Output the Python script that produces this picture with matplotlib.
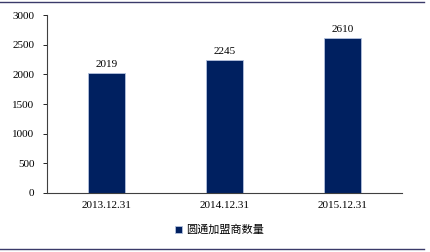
import matplotlib.pyplot as plt
from matplotlib.lines import Line2D

categories = ['2013.12.31', '2014.12.31', '2015.12.31']
values = [2019, 2245, 2610]
series_name = '圆通加盟商数量'

plt.rcParams['font.family'] = ['Liberation Serif', 'Noto Sans CJK SC']

fig = plt.figure(figsize=(4.3, 2.52), dpi=100)
ax = fig.add_axes([47 / 430, 1 - 193 / 252, 355 / 430, 178 / 252])

bars = ax.bar(range(len(categories)), values, width=0.31, color='#002060',
              edgecolor='#b4c2de', linewidth=0.6, label=series_name)
for i, v in enumerate(values):
    ax.text(i, v + 70, str(v), ha='center', va='bottom', fontsize=8)

ax.set_xlim(-0.5, 2.5)
ax.set_ylim(0, 3000)
ax.set_yticks(range(0, 3001, 500))
ax.set_xticks(range(len(categories)))
ax.set_xticklabels(categories)
ax.tick_params(axis='x', length=0, labelsize=8, pad=6)
ax.tick_params(axis='y', length=3, width=0.6, labelsize=8, pad=6, direction='out')
for s in ['top', 'right']:
    ax.spines[s].set_visible(False)
for s in ['left', 'bottom']:
    ax.spines[s].set_linewidth(0.8)
    ax.spines[s].set_color('#404040')

leg = fig.legend(handles=[bars], labels=[series_name], loc='center left',
                 bbox_to_anchor=(165 / 430, 1 - 230 / 252), frameon=False,
                 handlelength=0.6, handleheight=0.6, handletextpad=0.4,
                 prop={'family': ['Noto Sans CJK SC'], 'size': 8})

# only top and bottom rules, no side borders
for y in [1 - 1.5 / 252, 1 - 248.5 / 252]:
    fig.add_artist(Line2D([0, 424 / 430], [y, y], transform=fig.transFigure,
                          color='#3a3a6a', linewidth=1.0))

fig.savefig('out.png', dpi=100)
